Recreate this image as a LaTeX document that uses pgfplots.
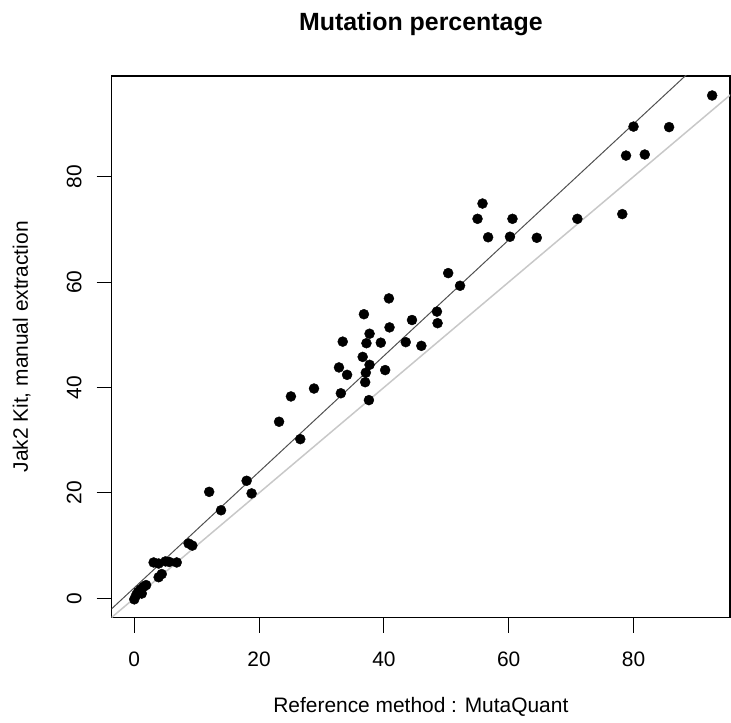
\documentclass[border=0pt]{standalone}
\usepackage{fontspec}
\setmainfont{Liberation Sans}
\usepackage{pgfplots}
\pgfplotsset{compat=1.18}
\definecolor{regline}{HTML}{505050}
\definecolor{idline}{HTML}{C8C8C8}
\begin{document}
\begin{tikzpicture}
\begin{axis}[
  scale only axis,
  width=618.3bp, height=541.7bp,
  xmin=-3.62, xmax=95.46,
  ymin=-3.68, ymax=99.1,
  xtick={0,20,40,60,80}, ytick={0,20,40,60,80},
  xtick pos=bottom, ytick pos=left,
  tick align=outside,
  major tick length=15bp,
  tick style={black, line width=1.1bp},
  axis line style={black, line width=1.2bp},
  /pgf/number format/assume math mode=true,
  tick label style={font=\fontsize{21}{25}\selectfont, inner sep=0pt},
  xticklabel style={anchor=north},
  xticklabel shift=19bp,
  yticklabel style={rotate=90, anchor=south},
  yticklabel shift=15bp,
  title={Mutation percentage},
  title style={font=\bfseries\fontsize{25}{30}\selectfont, inner sep=0pt, anchor=base, at={(axis description cs:0.5,1)}, yshift=40bp},
  xlabel={Reference method : MutaQuant},
  xlabel style={font=\fontsize{21}{25}\selectfont, inner sep=0pt, anchor=base, at={(axis description cs:0.5,0)}, yshift=-95.3bp},
  ylabel={Jak2 Kit, manual extraction},
  ylabel style={font=\fontsize{21}{25}\selectfont, inner sep=0pt, anchor=base, at={(axis description cs:0,0.5)}, yshift=83.7bp},
  clip=true,
]
\addplot[idline, line width=1.5bp] coordinates {(-10,-10) (110,110)};
\addplot[regline, line width=1bp] coordinates {(-10,-9.0) (110,123.0)};
\addplot[only marks, mark=*, mark size=5bp, mark options={draw=black, fill=black}] coordinates {
(0.0,-0.2) (0.3,0.6) (0.6,1.2) (1.0,1.7) (1.5,2.2) (1.9,2.5) (1.2,0.9)
(3.9,4.0) (4.4,4.6) (3.1,6.8) (3.9,6.6) (5.0,7.0) (5.6,6.9) (6.8,6.8)
(8.7,10.4) (9.3,10.0) (12.0,20.2) (13.9,16.7) (18.0,22.3) (18.8,19.9)
(23.2,33.5) (25.1,38.3) (26.6,30.2) (28.8,39.8) (33.1,38.9) (32.8,43.8)
(34.1,42.4) (33.4,48.7) (36.6,45.8) (36.8,53.9) (37.0,41.0) (37.1,42.8)
(37.2,48.4) (37.7,50.2) (37.7,44.3) (37.6,37.6) (39.5,48.5) (40.2,43.3)
(40.8,56.9) (40.9,51.4) (43.5,48.6) (44.5,52.8) (46.0,47.9) (48.5,54.4)
(48.6,52.2) (50.3,61.7) (52.2,59.3) (55.0,72.0) (55.8,74.9) (56.7,68.5)
(60.2,68.6) (60.6,72.0) (64.5,68.4) (71.0,72.0) (78.2,72.9) (78.8,84.0)
(80.0,89.5) (81.8,84.2) (85.7,89.4) (92.6,95.4)
};
\end{axis}
\pgfresetboundingbox
\path (current axis.south west) ++(-111.7bp,-105.3bp) coordinate (bbA);
\path (current axis.north east) ++(1bp,76bp) coordinate (bbB);
\path[use as bounding box] (bbA) rectangle (bbB);
\end{tikzpicture}
\end{document}
